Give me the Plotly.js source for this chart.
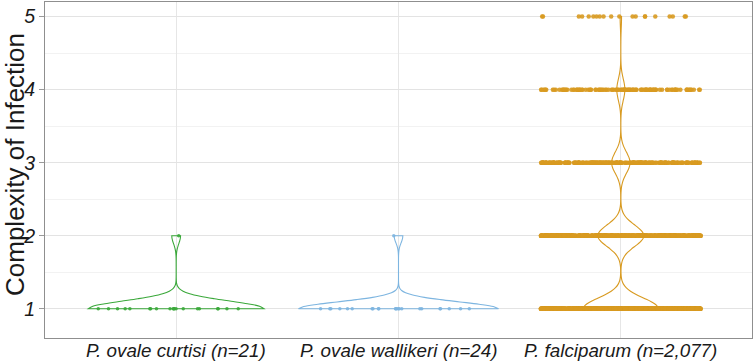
<!DOCTYPE html>
<html>
<head>
<meta charset="utf-8">
<script src="https://cdn.plot.ly/plotly-3.0.1.min.js"></script>
<style>
  html, body { margin: 0; padding: 0; background: #fff; }
  #plot { width: 755px; height: 364px; }
</style>
</head>
<body>
<div id="plot"></div>
<script>
// COI levels and how many samples sit at each level
const coiLevels = [1, 2, 3, 4, 5];
const species = ['P. ovale curtisi (n=21)', 'P. ovale wallikeri (n=24)', 'P. falciparum (n=2,077)'];
const curtisiCounts = [20, 1, 0, 0, 0];
const wallikeriCounts = [23, 1, 0, 0, 0];
const falciparumCounts = [1050, 640, 255, 112, 20];

const colors = ['#3aa83a', '#7db5e0', '#d89a20'];
const bandwidths = [0.107, 0.095, 0.146];
const violinWidths = [0.79, 0.9, 0.34];
const pointSizes = [3.5, 3.5, 4.5];

function expand(counts) {
    const ys = [];
    counts.forEach((c, i) => {
        for (let k = 0; k < c; k++) ys.push(coiLevels[i]);
    });
    return ys;
}

const allCounts = [curtisiCounts, wallikeriCounts, falciparumCounts];
const traces = [];

// violins first
allCounts.forEach((counts, i) => {
    const ys = expand(counts);
    traces.push({
        type: 'violin',
        x: ys.map(() => species[i]),
        y: ys,
        name: species[i],
        scalegroup: 'g' + i,
        scalemode: 'width',
        width: violinWidths[i],
        bandwidth: bandwidths[i],
        spanmode: 'hard',
        points: false,
        box: { visible: false },
        meanline: { visible: false },
        line: { color: colors[i], width: 1.1 },
        fillcolor: 'rgba(0,0,0,0)',
        hoverinfo: 'skip',
        showlegend: false
    });
});

// jittered points on top
allCounts.forEach((counts, i) => {
    const ys = expand(counts);
    traces.push({
        type: 'box',
        x: ys.map(() => species[i]),
        y: ys,
        name: species[i],
        width: 0.8,
        boxpoints: 'all',
        jitter: 0.9,
        pointpos: 0,
        whiskerwidth: 0,
        line: { width: 0, color: 'rgba(0,0,0,0)' },
        fillcolor: 'rgba(0,0,0,0)',
        marker: { color: colors[i], size: pointSizes[i], opacity: 0.9 },
        hoverinfo: 'skip',
        showlegend: false
    });
});

// category labels sit a little tighter to the frame than plotly's tick labels
const notes = species.map(s => ({
    x: s,
    xref: 'x',
    y: 0,
    yref: 'paper',
    yanchor: 'middle',
    yshift: -12,
    text: s,
    showarrow: false,
    font: { size: 18.8, style: 'italic', color: '#1a1a1a' }
}));

// y title, placed by hand so it hugs the left edge like the original
notes.push({
    x: 0,
    xref: 'paper',
    xanchor: 'center',
    xshift: -30,
    y: 0.5,
    yref: 'paper',
    yanchor: 'middle',
    yshift: 5,
    textangle: -90,
    text: 'Complexity of Infection',
    showarrow: false,
    borderpad: 0,
    font: { size: 26, color: '#1a1a1a' }
});

const layout = {
    width: 755,
    height: 364,
    margin: { l: 45, r: 3, t: 2, b: 26 },
    paper_bgcolor: '#fff',
    plot_bgcolor: '#fff',
    violinmode: 'overlay',
    boxmode: 'overlay',
    showlegend: false,
    font: { family: 'Liberation Sans, Arial, sans-serif', color: '#1a1a1a' },
    annotations: notes,
    xaxis: {
        type: 'category',
        categoryorder: 'array',
        categoryarray: species,
        range: [-0.59, 2.59],
        showgrid: true,
        gridcolor: '#e6e6e6',
        showline: true,
        mirror: true,
        linecolor: '#8f8f8f',
        linewidth: 1,
        ticks: '',
        showticklabels: false,
        fixedrange: true
    },
    yaxis: {
        range: [0.6, 5.2],
        tickvals: coiLevels,
        showgrid: true,
        gridcolor: '#e3e3e3',
        zeroline: false,
        showline: true,
        mirror: true,
        linecolor: '#8f8f8f',
        linewidth: 1,
        ticks: 'outside',
        ticklen: 5,
        tickcolor: '#9a9a9a',
        tickfont: { size: 19.5, style: 'italic', color: '#1a1a1a' },
        minor: { dtick: 0.5, tick0: 0.5, showgrid: true, gridcolor: '#f2f2f2', ticks: '' },
        fixedrange: true
    }
};

Plotly.newPlot('plot', traces, layout, { staticPlot: true, displayModeBar: false });
</script>
</body>
</html>
